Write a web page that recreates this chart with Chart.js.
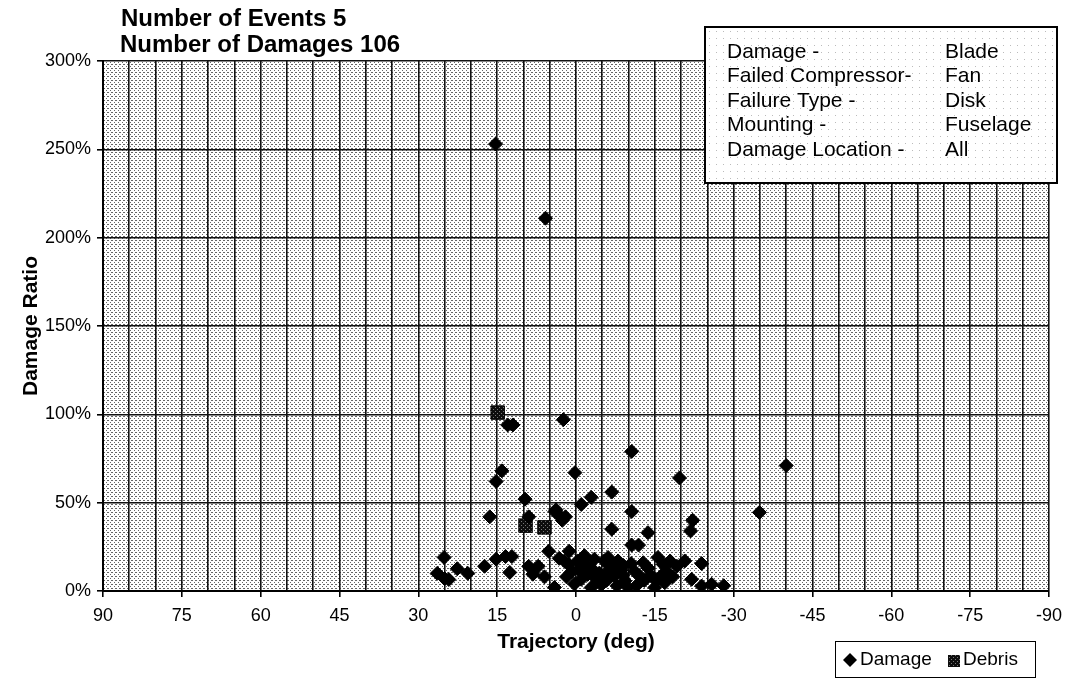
<!DOCTYPE html>
<html>
<head>
<meta charset="utf-8">
<script src="https://cdn.jsdelivr.net/npm/chart.js@4.4.0/dist/chart.umd.min.js"></script>
<style>
  html, body { margin: 0; padding: 0; background: #fff; }
  #wrap { width: 1070px; height: 678px; position: relative; }
</style>
</head>
<body>
<div id="wrap"><canvas id="chart"></canvas></div>
<script>
// chart text
const titleLines = ['Number of Events 5', 'Number of Damages 106'];
const infoLabels = ['Damage -', 'Failed Compressor-', 'Failure Type -', 'Mounting -', 'Damage Location -'];
const infoValues = ['Blade', 'Fan', 'Disk', 'Fuselage', 'All'];
const xTitle = 'Trajectory (deg)';
const yTitle = 'Damage Ratio';
const seriesNames = ['Damage', 'Debris'];

// axes
const xMin = -90, xMax = 90, xLabelStep = 15, xGridStep = 5;
const yMin = 0, yMax = 300, yStep = 50;

// Damage points: trajectory (deg) and damage ratio (%)
const damageDeg = [
  15.3, 5.8, 13.0, 12.0, 2.4, -10.6, -40.0, 14.1, 15.2, 0.2,
  -19.7, -6.8, -2.9, -1.0, 9.7, 16.4, 9.0, 4.0, 3.3, 2.6,
  2.0, 3.8, -10.6, -6.8, -13.7, -22.2, -21.8, -34.9, -10.6, -11.9,
  5.2, 1.3, 3.2, 25.1, 15.2, 13.4, 12.2, 17.4, 22.6, 20.6,
  26.4, 25.0, 24.2, 12.6, 9.0, 8.2, 6.0, 4.1, 2.2, 1.4,
  0.8, -0.3, -1.6, -2.9, -2.2, -1.0, -2.9, 0.3, -5.4, -6.7,
  -8.0, -8.6, -7.3, -9.3, -9.9, -11.2, -12.1, -13.7, -4.5, -5.8,
  -7.8, -6.2, -10.5, -15.6, -16.6, -17.9, -17.2, -15.3, -16.9, -15.0,
  -14.2, -18.4, -20.7, -23.9, -22.0, -23.9, -25.8, -28.1, -13.0, -11.5,
  -3.8, -0.5, 1.8, -8.9, -4.8, -12.8, -1.6, -6.1, -9.0, -3.5,
  7.2, -16.2, -19.2
];
const damagePct = [
  253, 211, 94, 94, 97, 79, 71, 68, 62, 67,
  64, 56, 53, 49, 52, 42, 42, 45, 43, 40,
  42, 46, 45, 35, 33, 40, 34, 44.5, 26, 26,
  22.5, 22.5, 18.5, 19, 18, 19.5, 19.5, 14, 12.6, 10,
  10, 7, 6.5, 10.5, 14, 9.5, 8, 2, 17, 15,
  11, 17, 16, 13, 9.4, 6.6, 2, 4, 17, 14,
  17, 12, 8.5, 5.7, 2, 11, 8.5, 13, 10, 6,
  3, 11.5, 15.5, 19, 15, 17, 11, 5.7, 4.7, 2,
  9, 8, 17, 15.5, 6.6, 2.8, 3.8, 3, 6, 3,
  7, 12, 8, 9, 3.5, 16, 20, 19, 14.5, 18,
  14, 8.5, 14
];

// Debris points
const debrisDeg = [14.9, 9.6, 6.0];
const debrisPct = [101, 37, 36];

const FONT = "'Liberation Sans', Arial, sans-serif";
const INK = '#111';

function makePattern(size, bg, dots, dotColor) {
  const c = document.createElement('canvas');
  c.width = size; c.height = size;
  const g = c.getContext('2d');
  g.fillStyle = bg;
  g.fillRect(0, 0, size, size);
  g.fillStyle = dotColor;
  dots.forEach(([x, y]) => g.fillRect(x, y, 1, 1));
  return document.getElementById('chart').getContext('2d').createPattern(c, 'repeat');
}

const plotPattern = makePattern(4, '#ffffff', [[0, 0], [2, 2], [3, 0]], '#666');
const boxPattern = makePattern(7, '#ffffff', [[2, 3]], '#bbb');
const debrisPattern = makePattern(4, '#0d0d0d', [[1, 1], [3, 3]], '#777');

function toPoints(xs, ys) {
  return xs.map((x, i) => ({ x, y: ys[i] }));
}

// stippled plot background
const plotBg = {
  id: 'plotBg',
  beforeDraw(chart) {
    const { ctx, chartArea: a } = chart;
    ctx.save();
    ctx.fillStyle = plotPattern;
    ctx.fillRect(a.left, a.top, a.right - a.left, a.bottom - a.top);
    ctx.restore();
  }
};

// title, info box and legend box
const overlays = {
  id: 'overlays',
  afterDraw(chart) {
    const { ctx } = chart;
    ctx.save();
    ctx.fillStyle = '#000';
    ctx.textBaseline = 'middle';
    ctx.textAlign = 'left';
    ctx.font = `bold 24px ${FONT}`;
    ctx.fillText(titleLines[0], 121, 19);
    ctx.fillText(titleLines[1], 120, 45);

    // info box
    ctx.fillStyle = boxPattern;
    ctx.fillRect(705, 27, 352, 156);
    ctx.lineWidth = 2;
    ctx.strokeStyle = '#000';
    ctx.strokeRect(705, 27, 352, 156);
    ctx.fillStyle = '#000';
    ctx.font = `21px ${FONT}`;
    infoLabels.forEach((t, i) => {
      const y = 52 + i * 24.5;
      ctx.fillText(t, 727, y);
      ctx.fillText(infoValues[i], 945, y);
    });

    // legend box
    ctx.fillStyle = '#fff';
    ctx.fillRect(835, 641, 200, 36);
    ctx.lineWidth = 1;
    ctx.strokeRect(835.5, 641.5, 200, 36);
    const ly = 660;
    ctx.fillStyle = '#000';
    ctx.beginPath();
    ctx.moveTo(850, ly - 7); ctx.lineTo(857, ly); ctx.lineTo(850, ly + 7); ctx.lineTo(843, ly);
    ctx.closePath();
    ctx.fill();
    ctx.font = `19px ${FONT}`;
    ctx.fillText(seriesNames[0], 860, ly);
    ctx.fillStyle = debrisPattern;
    ctx.fillRect(948, ly - 5, 12, 12);
    ctx.fillStyle = '#000';
    ctx.fillText(seriesNames[1], 963, ly);
    ctx.restore();
  }
};

new Chart(document.getElementById('chart'), {
  type: 'scatter',
  data: {
    datasets: [
      {
        label: seriesNames[0],
        data: toPoints(damageDeg, damagePct),
        pointStyle: 'rectRot',
        pointRadius: 7,
        backgroundColor: '#000',
        borderColor: '#000',
        borderWidth: 1,
      },
      {
        label: seriesNames[1],
        data: toPoints(debrisDeg, debrisPct),
        pointStyle: 'rect',
        pointRadius: 9.5,
        backgroundColor: debrisPattern,
        borderColor: '#000',
        borderWidth: 1,
      }
    ]
  },
  options: {
    responsive: true, maintainAspectRatio: false,
    animation: false,
    layout: { padding: { top: 61, right: 18, bottom: 0, left: 0 } },
    plugins: {
      legend: { display: false },
      tooltip: { enabled: false },
    },
    scales: {
      x: {
        type: 'linear',
        min: xMin, max: xMax,
        reverse: true,
        afterFit: s => { s.height = 87; },
        ticks: {
          stepSize: xGridStep,
          maxTicksLimit: 100,
          autoSkip: false,
          maxRotation: 0,
          padding: 8,
          color: '#000',
          font: { family: FONT, size: 18 },
          callback: v => (v % xLabelStep === 0 ? String(v) : ''),
        },
        grid: {
          color: INK,
          lineWidth: 1.6,
          tickLength: 6,
          tickColor: c => (c.tick && c.tick.value % xLabelStep === 0 ? '#000' : 'rgba(0,0,0,0)'),
        },
        border: { display: true, color: '#000', width: 2 },
        title: {
          display: true,
          text: xTitle,
          color: '#000',
          font: { family: FONT, size: 21, weight: 'bold' },
          padding: { top: 0, bottom: 23 },
        },
      },
      y: {
        min: yMin, max: yMax,
        afterFit: s => { s.width = 103; },
        ticks: {
          stepSize: yStep,
          padding: 6,
          color: '#000',
          font: { family: FONT, size: 18 },
          callback: v => v + '%',
        },
        grid: { color: INK, lineWidth: 1.6, tickLength: 6, tickColor: '#000' },
        border: { display: true, color: '#000', width: 2 },
        title: {
          display: true,
          text: yTitle,
          color: '#000',
          font: { family: FONT, size: 21, weight: 'bold' },
          padding: { top: 19, bottom: 0 },
        },
      },
    },
  },
  plugins: [plotBg, overlays],
});
</script>
</body>
</html>
